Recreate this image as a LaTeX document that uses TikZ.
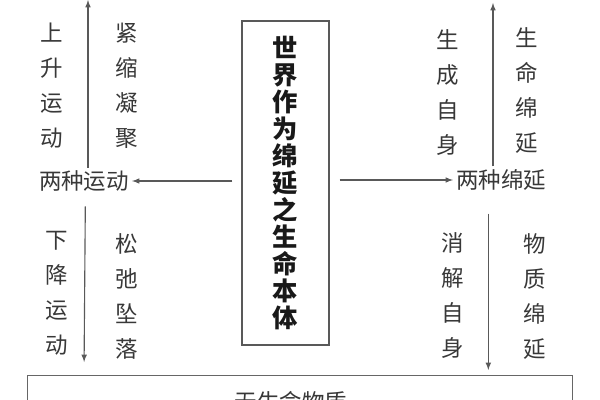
\documentclass[tikz,border=0pt]{standalone}
\usepackage{fontspec}
\newfontfamily\cjk{Noto Sans CJK SC}
\usetikzlibrary{calc,positioning,arrows}

\begin{document}
\begin{tikzpicture}[x=0.025cm,y=-0.025cm,
word/.style = {font=\cjk\fontsize{16}{24.9}\selectfont, text=black!78, align=center,
               inner sep=2pt},
core/.style = {rectangle, draw=black!65, thick, minimum width=87*0.025cm,
               minimum height=324*0.025cm, align=center, text=black!90,
               font=\cjk\bfseries\fontsize{18}{19.2}\selectfont},
base/.style = {rectangle, draw=black!60, thick, minimum width=545*0.025cm,
               minimum height=60*0.025cm, anchor=north west},
line/.style ={draw=black!65, thick, -latex}]
\useasboundingbox (0,0) rectangle (600,400);
\clip (0,0) rectangle (600,400);

\node [core] (world) at (285.5,183) {世\\界\\作\\为\\绵\\延\\之\\生\\命\\本\\体};
\node [base] (matter) at (27,375) {};
\node [word, anchor=north] (matterlbl) at (291,388) {无生命物质};

\node [word] (move) at (84,181) {两种运动};
\node [word] (last) at (501,180) {两种绵延};

\node [word] (rise) at (52,86) {上\\升\\运\\动};
\node [word] (shrink) at (127,86) {紧\\缩\\凝\\聚};
\node [word] (fall) at (57,293) {下\\降\\运\\动};
\node [word] (loose) at (127,296) {松\\弛\\坠\\落};
\node [word] (grow) at (448,93) {生\\成\\自\\身};
\node [word] (life) at (527,91) {生\\命\\绵\\延};
\node [word] (melt) at (453,296) {消\\解\\自\\身};
\node [word] (stuff) at (535,297) {物\\质\\绵\\延};

\coordinate (topL) at (88,0);
\coordinate (topR) at (493,3);

\begin{scope}[every path/.style=line]
\path [shorten <=9*0.025cm] (world.west |- move) -- (move.east);
\path [shorten <=10*0.025cm] (world.east |- last) -- (last.west);
\path (move.north -| topL) -- (topL);
\path (last.north -| topR) -- (topR);
\path [shorten <=12*0.025cm, shorten >=13*0.025cm] ([xshift=1]move.south) -- (move.south |- matter.north);
\path [shorten <=20*0.025cm, shorten >=5*0.025cm] ([xshift=-9]last.south) -- ([xshift=-9]last.south |- matter.north);
\end{scope}
\end{tikzpicture}
\end{document}
